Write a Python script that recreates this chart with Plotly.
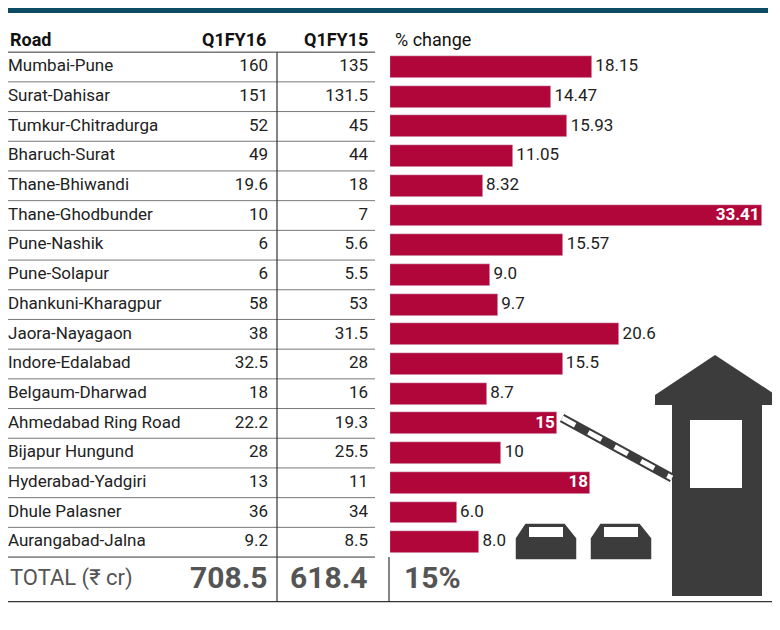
import plotly.graph_objects as go

roads = ["Mumbai-Pune", "Surat-Dahisar", "Tumkur-Chitradurga", "Bharuch-Surat", "Thane-Bhiwandi",
         "Thane-Ghodbunder", "Pune-Nashik", "Pune-Solapur", "Dhankuni-Kharagpur", "Jaora-Nayagaon",
         "Indore-Edalabad", "Belgaum-Dharwad", "Ahmedabad Ring Road", "Bijapur Hungund",
         "Hyderabad-Yadgiri", "Dhule Palasner", "Aurangabad-Jalna"]
q1fy16 = ["160", "151", "52", "49", "19.6", "10", "6", "6", "58", "38", "32.5", "18", "22.2", "28", "13", "36", "9.2"]
q1fy15 = ["135", "131.5", "45", "44", "18", "7", "5.6", "5.5", "53", "31.5", "28", "16", "19.3", "25.5", "11", "34", "8.5"]
change = [18.15, 14.47, 15.93, 11.05, 8.32, 33.41, 15.57, 9.0, 9.7, 20.6, 15.5, 8.7, 15, 10, 18, 6.0, 8.0]
change_lbl = ["18.15", "14.47", "15.93", "11.05", "8.32", "33.41", "15.57", "9.0", "9.7", "20.6",
              "15.5", "8.7", "15", "10", "18", "6.0", "8.0"]
inside = [5, 12, 14]
total = ["TOTAL (₹ cr)", "708.5", "618.4", "15%"]

RED = "#B0063A"
FONT = "Roboto"
n = len(roads)
rows = list(range(n))
OFF = 8  # page body margin
W, H = 780 - 2 * OFF, 630 - 2 * OFF

def py(p):  # reference pixel y -> paper
    return 1 - (p - OFF) / H

fig = go.Figure()

fig.add_trace(go.Bar(y=rows, x=change, orientation="h", marker_color=RED, width=0.74,
                     xaxis="x2", yaxis="y", hoverinfo="skip"))
out_idx = [i for i in rows if i not in inside]
fig.add_trace(go.Scatter(x=[change[i] + 0.3 for i in out_idx], y=out_idx, mode="text",
                         text=[change_lbl[i] for i in out_idx], textposition="middle right",
                         textfont=dict(family=FONT, size=17, color="#222"), xaxis="x2", yaxis="y"))
fig.add_trace(go.Scatter(x=[change[i] - 0.2 for i in inside], y=inside, mode="text",
                         text=["<b>%s</b>" % change_lbl[i] for i in inside], textposition="middle left",
                         textfont=dict(family=FONT, size=17, color="white"), xaxis="x2", yaxis="y"))

fig.add_trace(go.Scatter(x=[8] * n, y=rows, mode="text", text=roads, textposition="middle right",
                         textfont=dict(family=FONT, size=17, color="#222")))
fig.add_trace(go.Scatter(x=[268] * n, y=rows, mode="text", text=q1fy16, textposition="middle left",
                         textfont=dict(family=FONT, size=17, color="#222")))
fig.add_trace(go.Scatter(x=[368] * n, y=rows, mode="text", text=q1fy15, textposition="middle left",
                         textfont=dict(family=FONT, size=17, color="#222")))

hdr_y = -0.92
for xx, t, anc in [(8, "<b>Road</b>", "left"), (268, "<b>Q1FY16</b>", "right"),
                   (370, "<b>Q1FY15</b>", "right"), (393, "% change", "left")]:
    fig.add_annotation(x=xx, y=hdr_y, xref="x", yref="y", text=t, xanchor=anc, showarrow=False,
                       font=dict(family=FONT, size=18, color="#111"))
tot_y = 17.2
fig.add_annotation(x=8, y=tot_y, xref="x", yref="y", text=total[0], xanchor="left", showarrow=False,
                   font=dict(family=FONT, size=22, color="#555"))
for xx, t, anc in [(270, total[1], "right"), (370, total[2], "right"), (402, total[3], "left")]:
    fig.add_annotation(x=xx, y=tot_y, xref="x", yref="y", text="<b>%s</b>" % t, xanchor=anc,
                       showarrow=False, font=dict(family=FONT, size=30, color="#555"))
fig.add_annotation(x=6, y=18.4, xref="x", yref="y", text="Source: Companies", xanchor="left",
                   yanchor="top", showarrow=False, font=dict(family=FONT, size=14, color="#222"))

shapes = [dict(type="rect", xref="x", yref="paper", x0=8, x1=768, y0=py(13), y1=py(5),
               fillcolor="#0D4A63", line_width=0)]
for i in range(n + 1):
    shapes.append(dict(type="line", xref="x", yref="y", x0=0, x1=375, y0=i - 0.5, y1=i - 0.5,
                       line=dict(color="#777" if 0 < i < n else "#333", width=1)))
shapes.append(dict(type="line", xref="x", yref="y", x0=0, x1=780, y0=18.0, y1=18.0,
                   line=dict(color="#333", width=1.2)))
for xx in [277, 389]:
    y0 = -0.5 if xx == 277 else 16.5
    shapes.append(dict(type="line", xref="x", yref="y", x0=xx, x1=xx, y0=y0, y1=18.0,
                       line=dict(color="#333", width=1.2)))
g = "#3c3c3c"
shapes += [
    dict(type="path", xref="x", yref="paper", path="M 655 %f L 715 %f L 776 %f L 776 %f L 655 %f Z" % (
        py(395), py(355), py(395), py(405), py(405)), fillcolor=g, line_width=0),
    dict(type="rect", xref="x", yref="paper", x0=672, x1=762, y0=py(596), y1=py(405), fillcolor=g, line_width=0),
    dict(type="rect", xref="x", yref="paper", x0=690, x1=742, y0=py(488), y1=py(420), fillcolor="white", line_width=0),
    dict(type="line", xref="x", yref="paper", x0=562, x1=672, y0=py(418), y1=py(478), line=dict(color=g, width=9)),
    dict(type="line", xref="x", yref="paper", x0=562, x1=672, y0=py(418), y1=py(478),
         line=dict(color="white", width=5, dash="dash")),
]
for cx in [515, 590]:
    shapes += [
        dict(type="path", xref="x", yref="paper", path="M %d %f L %d %f L %d %f L %d %f L %d %f L %d %f Z" % (
            cx, py(560), cx, py(538), cx + 10, py(523), cx + 50, py(523), cx + 62, py(538), cx + 62, py(560)),
             fillcolor=g, line=dict(color="white", width=1.5)),
        dict(type="rect", xref="x", yref="paper", x0=cx + 14, x1=cx + 48, y0=py(537), y1=py(527),
             fillcolor="white", line_width=0),
    ]
fig.update_layout(shapes=shapes)

top_i = (OFF - 67) / 29.7
bot_i = (630 - OFF - 67) / 29.7
fig.update_layout(
    width=W, height=H, margin=dict(l=0, r=0, t=0, b=0), showlegend=False,
    plot_bgcolor="white", paper_bgcolor="white", bargap=0,
    xaxis=dict(range=[OFF, 780 - OFF], domain=[0, 1], visible=False),
    xaxis2=dict(range=[0, (780 - OFF - 390) / 11.13], domain=[(390 - OFF) / W, 1], visible=False, anchor="y"),
    yaxis=dict(range=[bot_i, top_i], visible=False),
)
fig.write_html("out.html")
